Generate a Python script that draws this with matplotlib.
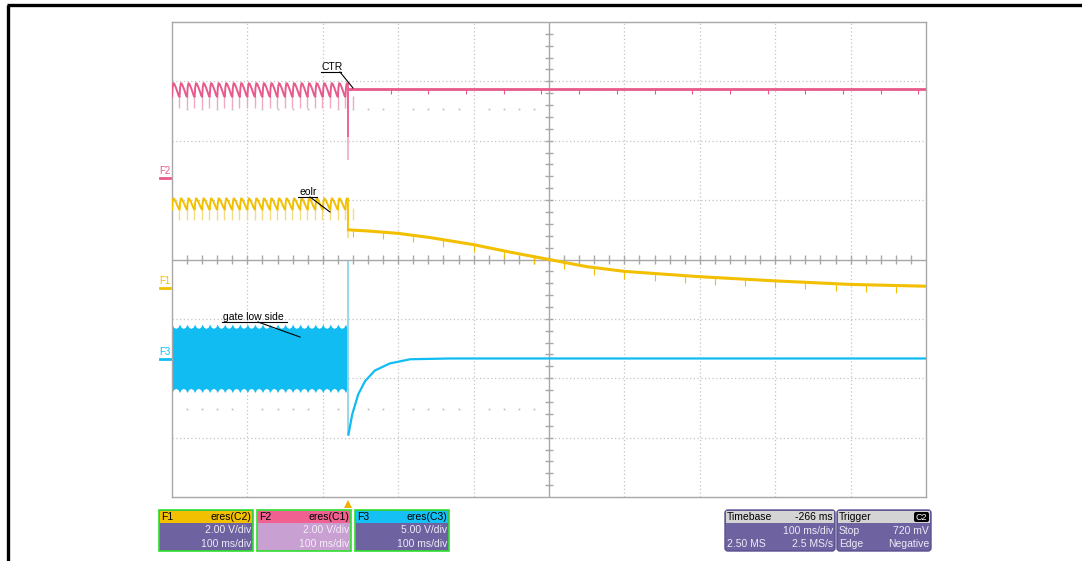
import numpy as np
import matplotlib.pyplot as plt
from matplotlib.patches import Rectangle, FancyBboxPatch, Polygon

plt.rcParams['font.family'] = ['Liberation Sans', 'DejaVu Sans']

W, H = 1082, 561

# scope screen: 10 x 8 divisions, 100 ms/div
event_x = 2.33          # divisions, where the drive stops
ripple_period = 0.1     # divisions (100 Hz ripple)

# CTR (F2) ripple tooth before the event (phase in periods, level in div)
tooth_phase = [0.0, 0.08, 0.18, 0.3, 0.5, 0.7, 0.88, 1.0]
ctr_tooth = [2.74, 2.90, 2.97, 2.96, 2.90, 2.83, 2.76, 2.74]
ctr_spike = 2.56
ctr_after_x = [2.35, 10.0]
ctr_after_y = [2.88, 2.88]
ctr_event_low = 1.68

# eolr (F1) ripple tooth before the event
eolr_tooth = [0.84, 0.96, 1.03, 1.02, 0.97, 0.91, 0.86, 0.84]
eolr_spike = 0.67
eolr_after_x = [2.34, 2.6, 3.0, 3.42, 4.0, 4.5, 5.0, 5.5, 6.0, 7.0, 8.0, 9.0, 10.0]
eolr_after_y = [0.50, 0.48, 0.44, 0.37, 0.25, 0.12, 0.0, -0.12, -0.20, -0.29, -0.36, -0.42, -0.45]
eolr_event_low = 0.37

# gate low side (F3) switching band envelope tooth
band_phase = [0.0, 0.2, 0.5, 0.8, 1.0]
band_top = [-1.09, -1.14, -1.16, -1.14, -1.09]
band_bot = [-2.24, -2.19, -2.17, -2.19, -2.24]
gate_after_x = [2.34, 2.39, 2.47, 2.56, 2.69, 2.89, 3.16, 3.69, 10.0]
gate_after_y = [-2.95, -2.61, -2.27, -2.05, -1.87, -1.75, -1.68, -1.667, -1.667]
gate_event_high = -0.03

# small downward glitches on the traces after the event
ctr_glitch_x = [2.9, 3.4, 3.9, 4.4, 4.9, 5.4, 5.9, 6.4, 6.9, 7.4, 7.9, 8.4, 8.9, 9.4, 9.9]
eolr_glitch_x = [2.4, 2.8, 3.2, 3.6, 4.0, 4.4, 4.8, 5.2, 5.6, 6.0, 6.4, 6.8, 7.2, 7.6, 8.0, 8.4, 8.8, 9.2, 9.6]

# faint dot rows left on the screen
dot_rows = [2.54, -2.52]
dot_x = [0.2, 0.4, 0.6, 0.8, 1.2, 1.4, 1.6, 1.8, 2.2, 2.4, 2.6, 2.8, 3.2, 3.4, 3.6, 3.8, 4.2, 4.4, 4.6, 4.8]

# channel offset markers (label, zero level in div)
marker_labels = ['F2', 'F1', 'F3']
marker_levels = [1.38, -0.47, -1.667]

# info boxes at the bottom
chan_names = ['F1', 'F2', 'F3']
chan_src = ['eres(C2)', 'eres(C1)', 'eres(C3)']
chan_vdiv = ['2.00 V/div', '2.00 V/div', '5.00 V/div']
chan_tdiv = ['100 ms/div', '100 ms/div', '100 ms/div']
timebase_lines = [('Timebase', '-266 ms'), ('', '100 ms/div'), ('2.50 MS', '2.5 MS/s')]
trigger_lines = [('Trigger', 'C2'), ('Stop', '720 mV'), ('Edge', 'Negative')]

PINK = '#e85a8c'
PINK_L = '#eeaac4'
YEL = '#f2c000'
YEL_L = '#f5dc80'
BLUE = '#10bcf2'
BLUE_L = '#86d2e6'


def tile(phase, vals, start, stop, period):
    n = int(np.ceil((stop - start) / period))
    xs = np.concatenate([start + (k + np.array(phase)) * period for k in range(n)])
    ys = np.tile(vals, n)
    keep = xs <= stop
    return xs[keep], ys[keep]


fig = plt.figure(figsize=(W / 100, H / 100), dpi=100)

ax = fig.add_axes([172 / W, (H - 497) / H, 754 / W, 475 / H])
ax.set_xlim(0, 10)
ax.set_ylim(-4, 4)
ax.set_xticks([])
ax.set_yticks([])
for s in ax.spines.values():
    s.set_color('#a8a8a8')
    s.set_linewidth(1)

# pixel overlay for frame, labels and boxes (on top)
ov = fig.add_axes([0, 0, 1, 1])
ov.set_xlim(0, W)
ov.set_ylim(H, 0)
ov.axis('off')
ov.set_zorder(5)

# grid
for gx in range(1, 10):
    if gx != 5:
        ax.axvline(gx, color='#c4c4c4', lw=0.9, ls=(0, (1, 2)), zorder=0)
for gy in range(-3, 4):
    if gy != 0:
        ax.axhline(gy, color='#c4c4c4', lw=0.9, ls=(0, (1, 2)), zorder=0)
ax.axvline(5, color='#a8a8a8', lw=1, zorder=0)
ax.axhline(0, color='#a8a8a8', lw=1, zorder=0)
tx = np.arange(0.2, 10, 0.2)
ax.vlines(tx, -0.07, 0.07, color='#a8a8a8', lw=1, zorder=0)
ty = np.arange(-3.8, 4, 0.2)
ax.hlines(ty, 4.95, 5.05, color='#a8a8a8', lw=1, zorder=0)
for r in dot_rows:
    ax.plot(dot_x, [r] * len(dot_x), ls='none', marker='s', ms=1.2, color='#b8b8b8', mew=0, zorder=0)

# CTR trace
x, y = tile(tooth_phase, ctr_tooth, 0, event_x, ripple_period)
spx = np.arange(0, event_x, ripple_period) + 0.95 * ripple_period
ax.vlines(spx, ctr_spike, 2.76, color=PINK_L, lw=1, zorder=2)
ax.plot(x, y, color=PINK, lw=1.4, zorder=3)
ax.vlines(event_x, ctr_event_low, 2.97, color=PINK_L, lw=1.2, zorder=2)
ax.vlines(event_x, 2.07, 2.97, color=PINK, lw=1.2, zorder=3)
ax.vlines(ctr_glitch_x, 2.78, 2.88, color=PINK, lw=0.8, zorder=3)
ax.plot(ctr_after_x, ctr_after_y, color=PINK, lw=2, zorder=3)

# eolr trace
x, y = tile(tooth_phase, eolr_tooth, 0, event_x, ripple_period)
ax.vlines(spx, eolr_spike, 0.86, color=YEL_L, lw=1, zorder=2)
ax.plot(x, y, color=YEL, lw=1.4, zorder=3)
ax.vlines(event_x, eolr_event_low, 1.03, color=YEL_L, lw=1.2, zorder=2)
ax.vlines(event_x, 0.5, 1.03, color=YEL, lw=1.2, zorder=3)
gl = np.interp(eolr_glitch_x, eolr_after_x, eolr_after_y)
ax.vlines(eolr_glitch_x, gl - 0.12, gl, color=YEL, lw=0.8, zorder=3)
ax.plot(eolr_after_x, eolr_after_y, color=YEL, lw=2.2, zorder=3)

# gate low side trace
bx, btop = tile(band_phase, band_top, 0, event_x, ripple_period)
_, bbot = tile(band_phase, band_bot, 0, event_x, ripple_period)
ax.fill_between(bx, bbot, btop, color=BLUE, lw=0, zorder=2)
ax.vlines(event_x, gate_after_y[0], gate_event_high, color=BLUE_L, lw=1.2, zorder=2)
ax.plot(gate_after_x, gate_after_y, color=BLUE, lw=1.6, zorder=3)


def px_y(d):
    return 260 - d * 59.4


# channel markers on the left
for lab, lev, col in zip(marker_labels, marker_levels, [PINK, YEL, BLUE]):
    yy = px_y(lev)
    ov.plot([160, 170], [yy, yy], color=col, lw=2)
    ov.text(159, yy - 2, lab, color=col, fontsize=7, ha='left', va='bottom')

# annotations: label, text x, text baseline y, underline end x, leader start x, leader end
ann = [('CTR', 322, 70, 341, 340, 353, 88),
       ('eolr', 299, 195, 317, 310, 330, 212),
       ('gate low side', 223, 320, 287, 258, 300, 337)]
for lab, tx0, ty0, ux, lx, ex, ey in ann:
    ov.text(tx0, ty0, lab, fontsize=7.5, ha='left', va='baseline', color='black')
    ov.plot([tx0 - 1, ux], [ty0 + 2, ty0 + 2], color='black', lw=0.8)
    ov.plot([lx, ex], [ty0 + 2, ey], color='black', lw=0.8)

# trigger position marker
ov.add_patch(Polygon([[344, 508], [352, 508], [348, 500]], closed=True, color='#f0b000', lw=0))

# outer frame
ov.plot([7, W], [5, 5], color='black', lw=2.4, solid_capstyle='butt')
ov.plot([8, 8], [5, H], color='black', lw=2.4, solid_capstyle='butt')

# channel boxes
box_x = [159, 257, 355]
head_col = [YEL, '#f06090', '#14c0f4']
body_col = ['#6e62a0', '#c8a0d2', '#6e62a0']
txt_col = ['#ecebf6', '#f6eef8', '#ecebf6']
for i in range(3):
    x0 = box_x[i]
    ov.add_patch(Rectangle((x0, 510), 94, 41, facecolor=body_col[i], edgecolor='#2ee02e', lw=1.2))
    ov.add_patch(Rectangle((x0 + 1, 511), 92, 12, facecolor=head_col[i], edgecolor='none'))
    ov.text(x0 + 2, 517, chan_names[i], fontsize=7.5, va='center', ha='left', color='black')
    ov.text(x0 + 92, 517, chan_src[i], fontsize=7.5, va='center', ha='right', color='black')
    ov.text(x0 + 92, 530, chan_vdiv[i], fontsize=7.5, va='center', ha='right', color=txt_col[i])
    ov.text(x0 + 92, 544, chan_tdiv[i], fontsize=7.5, va='center', ha='right', color=txt_col[i])

# timebase and trigger boxes
for x0, w, lines in [(725, 110, timebase_lines), (837, 94, trigger_lines)]:
    ov.add_patch(FancyBboxPatch((x0, 510), w, 41, boxstyle='round,pad=0,rounding_size=3',
                                facecolor='#6e62a0', edgecolor='#5a5090', lw=1))
    ov.add_patch(Rectangle((x0 + 1, 511), w - 2, 12, facecolor='#d4d4d4', edgecolor='none'))
    for r, (left, right) in enumerate(lines):
        yy = 517 + r * 13.5
        c = 'black' if r == 0 else '#ecebf6'
        ov.text(x0 + 2, yy, left, fontsize=7.5, va='center', ha='left', color=c)
        if lines is trigger_lines and r == 0:
            ov.add_patch(FancyBboxPatch((x0 + w - 17, 512), 15, 10, boxstyle='round,pad=0,rounding_size=2',
                                        facecolor='black', edgecolor='none'))
            ov.text(x0 + w - 9.5, yy, right, fontsize=6.5, va='center', ha='center', color='white')
        else:
            ov.text(x0 + w - 2, yy, right, fontsize=7.5, va='center', ha='right', color=c)

fig.savefig('out.png', dpi=100)
